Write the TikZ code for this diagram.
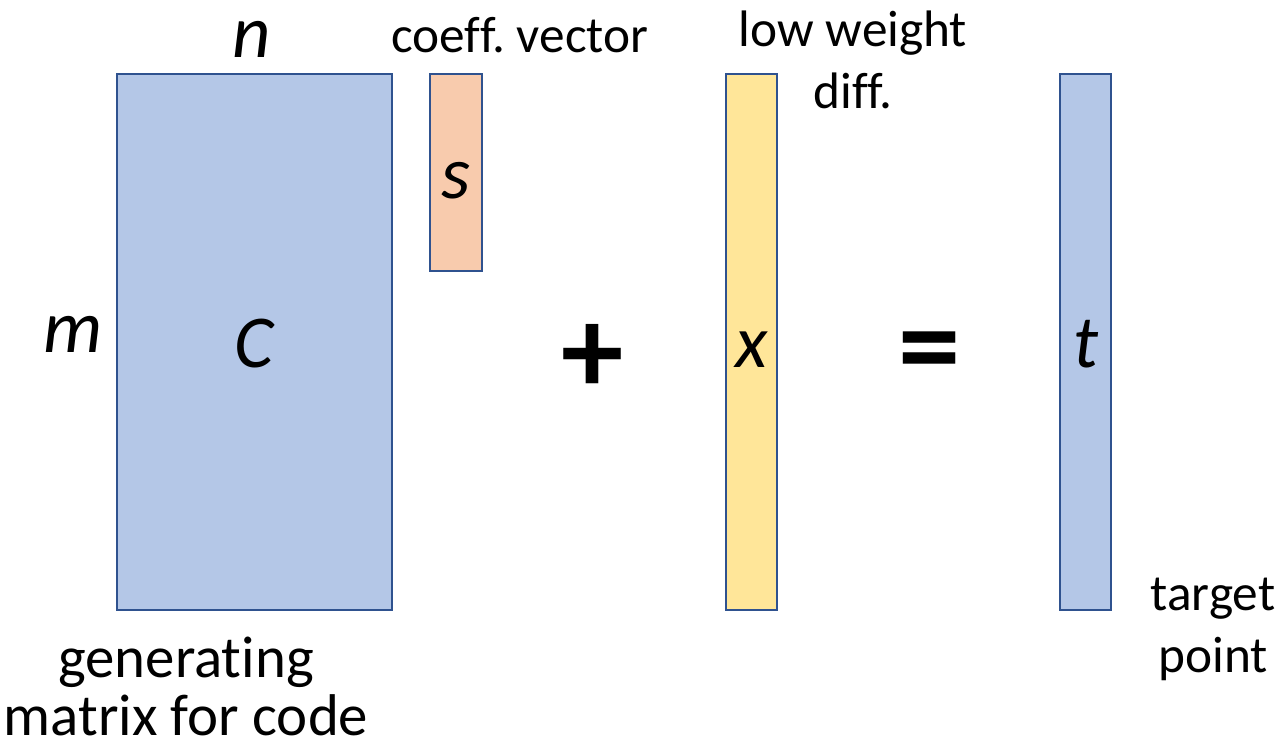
\documentclass[tikz,border=0pt]{standalone}
\usepackage{fontspec}
\setmainfont{Carlito}[Ligatures=NoCommon]
\usepackage{xcolor}
\usepackage{tikz}
\usetikzlibrary{positioning}
\frenchspacing

\definecolor{matblue}{HTML}{B4C7E7}
\definecolor{edgeblue}{HTML}{2F528F}
\definecolor{peach}{HTML}{F8CBAD}
\definecolor{lightyellow}{HTML}{FFE699}

\begin{document}
\begin{tikzpicture}[
    x=0.02cm, y=-0.02cm,
    block/.style={rectangle, draw=edgeblue, line width=1.1pt, inner sep=0pt,
                  text height=29.5pt, text depth=0pt,
                  font=\fontsize{42.5}{50}\selectfont\itshape},
    dimlbl/.style={anchor=base, font=\fontsize{42.5}{50}\selectfont\itshape},
    note/.style={anchor=base, align=center,
                 font=\fontsize{29.2}{35}\selectfont},
    op/.style={font=\fontsize{71}{80}\selectfont\bfseries},
]
\useasboundingbox (0,0) rectangle (1286,748);
% vectors and matrix
\node[block, fill=matblue, minimum width=5.5cm, minimum height=10.72cm]
    (gen) at (254.5,342) {C};
\node[block, fill=peach, minimum width=1.04cm, minimum height=3.94cm]
    (coef) at (456,172.5) {s};
\node[block, fill=lightyellow, minimum width=1.02cm, minimum height=10.72cm]
    (diff) at (751.5,342) {x};
\node[block, fill=matblue, minimum width=1.02cm, minimum height=10.72cm]
    (tgt) at (1085.5,342) {t};
% dimensions
\node[dimlbl] (ncols) at (252,57) {n};
\node[dimlbl] (mrows) at (73,352) {m};
% operators
\node[op] (plus) at (593,359) {+};
\node[op] (equals) at (930,360) {=};
% captions (base = last line)
\node[note] (coeflbl) at (520,52) {coeff. vector};
\node[note] (difflbl) at (853,108) {low weight\\diff.};
\node[note] (tgtlbl) at (1213,672) {target\\point};
\node[note, font=\fontsize{33.5}{33}\selectfont] (genlbl) at (186,735)
    {generating\\matrix for code};
\end{tikzpicture}
\end{document}
